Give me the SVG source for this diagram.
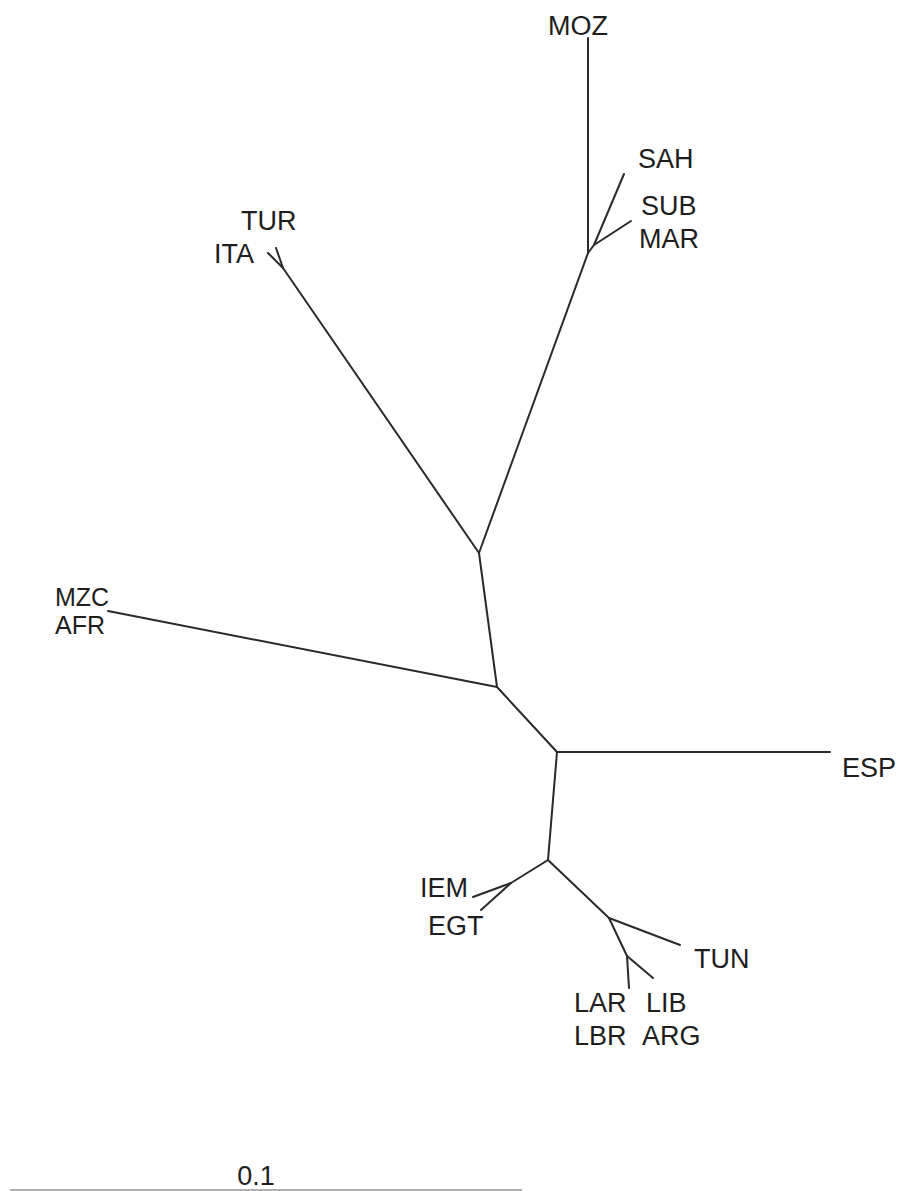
<svg xmlns="http://www.w3.org/2000/svg" width="903" height="1191" viewBox="0 0 903 1191">
<style>
.br{stroke:#2a2a2a;stroke-width:2;fill:none;stroke-linecap:round;stroke-linejoin:round}
.lb{font-family:"Liberation Sans",Arial,sans-serif;font-size:27px;fill:#1e1e1e}
.sm{font-size:25px}
.sc{stroke:#b0b0b0;stroke-width:2}
</style>
<rect width="903" height="1191" fill="#fff"/>
<g id="connectors">
<path class="br" d="M588,38 L588,253"/>
<path class="br" d="M588,253 L479,553"/>
<path class="br" d="M588,253 L594,245 L624,174"/>
<path class="br" d="M594,245 L631,221"/>
<path class="br" d="M283,268 L479,553"/>
<path class="br" d="M283,268 L268,253"/>
<path class="br" d="M283,268 L276,248"/>
<path class="br" d="M479,553 L497,687"/>
<path class="br" d="M108,611 L497,687"/>
<path class="br" d="M497,687 L557,752"/>
<path class="br" d="M557,752 L830,752"/>
<path class="br" d="M557,752 L548,860"/>
<path class="br" d="M548,860 L511,883 L481,910"/>
<path class="br" d="M511,883 L473,897"/>
<path class="br" d="M548,860 L609,918 L680,945"/>
<path class="br" d="M609,918 L627,956 L629,988"/>
<path class="br" d="M627,956 L653,978"/>
</g>
<g id="MOZ"><text class="lb" x="548" y="35">MOZ</text></g>
<g id="SAH"><text class="lb" x="638" y="168">SAH</text></g>
<g id="SUB"><text class="lb" x="641" y="215">SUB</text></g>
<g id="MAR"><text class="lb" x="639" y="248">MAR</text></g>
<g id="TUR"><text class="lb" x="241" y="230">TUR</text></g>
<g id="ITA"><text class="lb" x="214" y="263">ITA</text></g>
<g id="MZC"><text class="lb sm" x="55" y="606">MZC</text></g>
<g id="AFR"><text class="lb sm" x="55" y="634">AFR</text></g>
<g id="ESP"><text class="lb" x="842" y="777">ESP</text></g>
<g id="IEM"><text class="lb" x="420" y="897">IEM</text></g>
<g id="EGT"><text class="lb" x="428" y="935">EGT</text></g>
<g id="TUN"><text class="lb" x="694" y="968">TUN</text></g>
<g id="LAR"><text class="lb" x="574" y="1012">LAR</text></g>
<g id="LIB"><text class="lb" x="646" y="1012">LIB</text></g>
<g id="LBR"><text class="lb" x="574" y="1045">LBR</text></g>
<g id="ARG"><text class="lb" x="642" y="1045">ARG</text></g>
<g id="scale">
<text class="lb" x="256" y="1185" text-anchor="middle">0.1</text>
<line class="sc" x1="10" y1="1190" x2="522" y2="1190"/>
</g>
</svg>
